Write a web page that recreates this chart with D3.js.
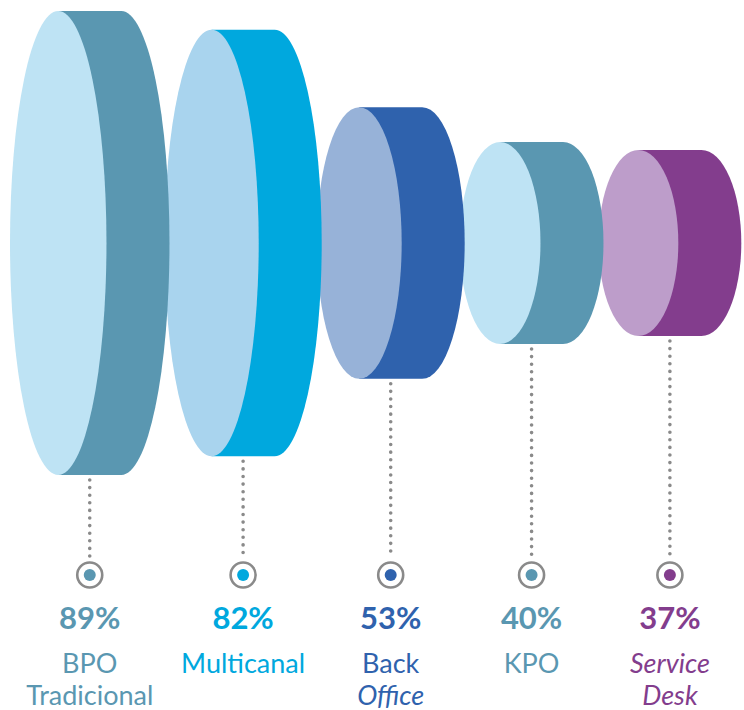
<!DOCTYPE html>
<html>
<head>
    <title>Servicios - discos</title>
    <script src="https://cdn.jsdelivr.net/npm/d3@7"></script>
    <style>
        body { margin: 0; background: #fff; }
        svg { display: block; }
        .pct { font-family: Lato, "Open Sans", sans-serif; font-weight: 700; font-size: 31px; }
        .lbl { font-family: Lato, "Open Sans", sans-serif; font-weight: 400; font-size: 27px; }
    </style>
</head>
<body>
<div id="chart"></div>
<script>
    // data
    var values = [89, 82, 53, 40, 37];
    var labelLines = [["BPO", "Tradicional"], ["Multicanal"], ["Back", "Office"], ["KPO"], ["Service", "Desk"]];
    var italicLines = [[false, false], [false], [false, true], [false], [true, true]];
    var sideColors = ["#5a97b1", "#00a8de", "#2f62ad", "#5a97b1", "#833d8d"];
    var frontColors = ["#bee3f4", "#a9d4ee", "#97b2d8", "#bee3f4", "#bd9dca"];

    var width = 744, height = 710;
    var cy = 243, depth = 63, overlap = 5, startX = 10;
    var ringY = 575, pctY = 629, lineY = [673, 705];

    var svg = d3.select("#chart").append("svg")
        .attr("width", width)
        .attr("height", height);

    // half height of a disc and half width of its face
    var ry = d3.scaleLinear().domain([37, 89]).range([93, 232]);
    var rx = d3.scaleLinear().domain([0, 100]).range([34, 50]);

    // lay discs side by side, slightly overlapping
    var discs = [];
    var x = startX;
    values.forEach(function (v, i) {
        var a = rx(v), b = ry(v);
        var front = x + a, back = front + depth;
        discs.push({ i: i, v: v, rx: a, ry: b, front: front, back: back, mid: (front + back) / 2 });
        x = back + a - overlap;
    });

    // draw right-most first so left discs sit on top
    var g = svg.selectAll("g.disc")
        .data(discs.slice().reverse())
        .enter().append("g")
        .attr("class", "disc");

    g.append("path")
        .attr("fill", function (d) { return sideColors[d.i]; })
        .attr("d", function (d) {
            return "M" + d.front + "," + (cy - d.ry) +
                "L" + d.back + "," + (cy - d.ry) +
                "A" + d.rx + "," + d.ry + " 0 0 1 " + d.back + "," + (cy + d.ry) +
                "L" + d.front + "," + (cy + d.ry) + "Z";
        });

    g.append("ellipse")
        .attr("cx", function (d) { return d.front; })
        .attr("cy", cy)
        .attr("rx", function (d) { return d.rx; })
        .attr("ry", function (d) { return d.ry; })
        .attr("fill", function (d) { return frontColors[d.i]; });

    // leaders, markers and labels
    var lab = svg.selectAll("g.lab")
        .data(discs)
        .enter().append("g")
        .attr("class", "lab")
        .attr("transform", function (d) { return "translate(" + d.mid + ",0)"; });

    lab.append("line")
        .attr("y1", function (d) { return cy + d.ry + 5; })
        .attr("y2", ringY - 17)
        .attr("stroke", "#8a8a8a")
        .attr("stroke-width", 3.6)
        .attr("stroke-linecap", "round")
        .attr("stroke-dasharray", "0 7.6");

    lab.append("circle")
        .attr("cy", ringY)
        .attr("r", 12.5)
        .attr("fill", "#fff")
        .attr("stroke", "#8a8a8a")
        .attr("stroke-width", 2.6);

    lab.append("circle")
        .attr("cy", ringY)
        .attr("r", 6)
        .attr("fill", function (d) { return sideColors[d.i]; });

    lab.append("text")
        .attr("class", "pct")
        .attr("y", pctY)
        .attr("text-anchor", "middle")
        .attr("fill", function (d) { return sideColors[d.i]; })
        .text(function (d) { return d.v + "%"; });

    lab.each(function (d) {
        var sel = d3.select(this);
        labelLines[d.i].forEach(function (t, k) {
            sel.append("text")
                .attr("class", "lbl")
                .attr("y", lineY[k])
                .attr("text-anchor", "middle")
                .attr("fill", sideColors[d.i])
                .attr("font-style", italicLines[d.i][k] ? "italic" : "normal")
                .text(t);
        });
    });
</script>
</body>
</html>
